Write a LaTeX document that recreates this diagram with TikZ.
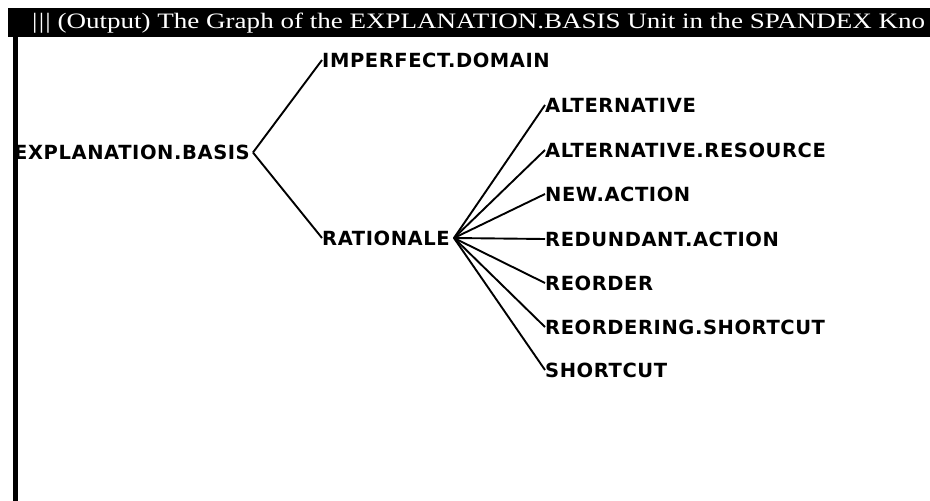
\documentclass[tikz,border=0pt]{standalone}
\usepackage{fontspec}
\usepackage{graphicx}
\newfontfamily\lblfont{DejaVu Sans}[LetterSpace=3]
\newfontfamily\titlefont{Liberation Serif}
\begin{document}
\begin{tikzpicture}[x=1pt,y=-1pt,
  unit/.style={anchor=west,inner sep=0pt,font=\lblfont\bfseries\fontsize{19.5}{19.5}\selectfont},
  link/.style={line width=1.9pt,black}]
\useasboundingbox (0,0) rectangle (930,501);
% window frame: title bar and left edge
\fill[black] (8,8) rectangle (930,37);
\fill[black] (13,37) rectangle (18,501);
\node[anchor=west,inner sep=0pt,text=white,font=\titlefont\fontsize{22}{22}\selectfont] (title) at (32,23.5)
  {\resizebox{893pt}{\height}{|\kern1pt|\kern1pt| (Output) The Graph of the EXPLANATION.BASIS Unit in the SPANDEX Kno}};
% the units
\node[unit] (root) at (14,152.5) {EXPLANATION.BASIS};
\node[unit] (imp) at (322,60) {IMPERFECT.DOMAIN};
\node[unit] (rat) at (322,238) {RATIONALE};
\node[unit] (c1) at (545,105) {ALTERNATIVE};
\node[unit] (c2) at (545,150) {ALTERNATIVE.RESOURCE};
\node[unit] (c3) at (545,194) {NEW.ACTION};
\node[unit] (c4) at (545,239) {REDUNDANT.ACTION};
\node[unit] (c5) at (545,283) {REORDER};
\node[unit] (c6) at (545,327) {REORDERING.SHORTCUT};
\node[unit] (c7) at (545,370) {SHORTCUT};
% links
\draw[link] ([xshift=3pt]root.east) -- (imp.west);
\draw[link] ([xshift=3pt]root.east) -- (rat.west);
\foreach \c in {c1,c2,c3,c4,c5,c6,c7}
  \draw[link] ([xshift=4pt]rat.east) -- (\c.west);
\end{tikzpicture}
\end{document}
